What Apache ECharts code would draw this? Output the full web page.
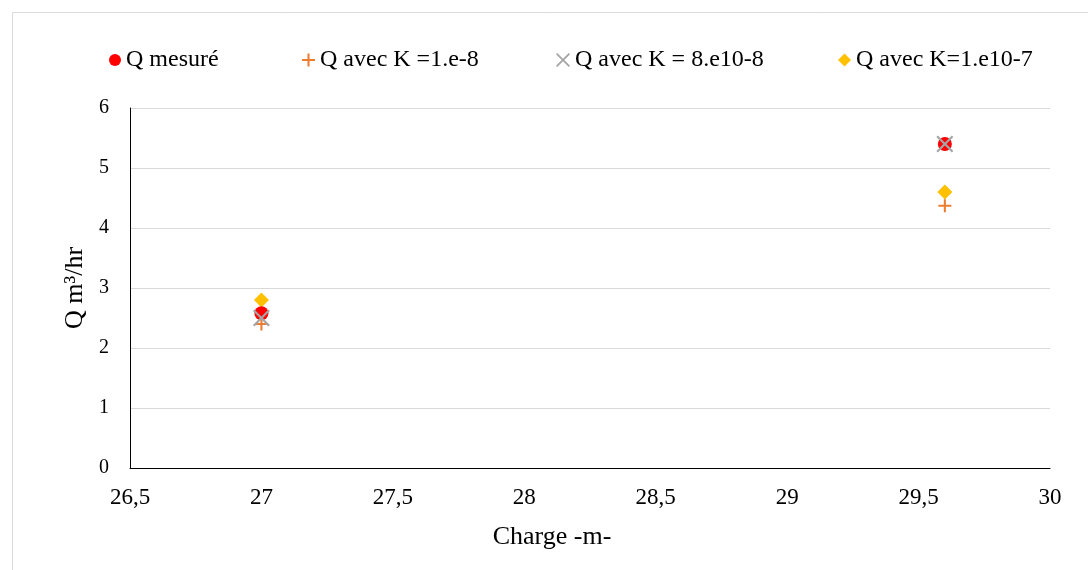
<!DOCTYPE html>
<html><head><meta charset="utf-8">
<script src="https://cdn.jsdelivr.net/npm/echarts@6/dist/echarts.min.js"></script>
<style>html,body{margin:0;padding:0;background:#fff}#c{width:1088px;height:570px}</style>
</head><body><div id="c"></div>
<script>
const seriesNames = ['Q mesuré', 'Q avec K =1.e-8', 'Q avec K = 8.e10-8', 'Q avec K=1.e10-7'];
const charge = [27, 29.6];
const qMesure = [2.58, 5.4];
const qK1 = [2.4, 4.37];
const qK8 = [2.5, 5.4];
const qK107 = [2.8, 4.6];
const xTicks = [26.5, 27, 27.5, 28, 28.5, 29, 29.5, 30];
const yTicks = [0, 1, 2, 3, 4, 5, 6];

const FONT = 'Liberation Serif';
const plusPath = 'path://M4.2,0 L5.8,0 L5.8,4.2 L10,4.2 L10,5.8 L5.8,5.8 L5.8,10 L4.2,10 L4.2,5.8 L0,5.8 L0,4.2 L4.2,4.2 Z';
const xPath = 'path://M0,0.9 L0.9,0 L5,4.1 L9.1,0 L10,0.9 L5.9,5 L10,9.1 L9.1,10 L5,5.9 L0.9,10 L0,9.1 L4.1,5 Z';
const colors = ['#ff0000', '#ed7d31', '#a5a5a5', '#ffc000'];
const symbols = ['circle', plusPath, xPath, 'diamond'];
const sizes = [14, 13, 17, 15];
const legendIconSizes = [12, 13, 14, 13];
const dataSets = [qMesure, qK1, qK8, qK107];

const chart = echarts.init(document.getElementById('c'));
const legendLefts = [104, 297, 551, 833];
chart.setOption({
  animation: false,
  graphic: [{type:'rect', shape:{x:12.5, y:12.5, width:1090, height:570}, style:{fill:'none', stroke:'#d9d9d9', lineWidth:1}}],
  legend: seriesNames.map((n, i) => ({
    data: [n], left: legendLefts[i], top: 43,
    itemWidth: legendIconSizes[i], itemHeight: legendIconSizes[i],
    textStyle: {fontFamily: FONT, fontSize: 24, color: '#000'}
  })),
  grid: {left: 130, right: 38, top: 108, bottom: 102},
  xAxis: {
    type: 'value', min: 26.5, max: 30, interval: 0.5,
    name: 'Charge -m-', nameLocation: 'middle', nameGap: 56,
    nameTextStyle: {fontFamily: FONT, fontSize: 26, color: '#000', padding: [0, 76, 0, 0]},
    axisLine: {show: true, lineStyle: {color: '#000', width: 1}},
    axisTick: {show: false}, splitLine: {show: false},
    axisLabel: {fontFamily: FONT, fontSize: 23, color: '#000', margin: 18,
      formatter: v => String(v).replace('.', ',')}
  },
  yAxis: {
    type: 'value', min: 0, max: 6, interval: 1,
    name: 'Q m³/hr', nameLocation: 'middle', nameGap: 35,
    nameTextStyle: {fontFamily: FONT, fontSize: 26, color: '#000'},
    axisLine: {show: true, lineStyle: {color: '#000', width: 1}},
    axisTick: {show: false},
    splitLine: {lineStyle: {color: '#d9d9d9', width: 1}},
    axisLabel: {fontFamily: FONT, fontSize: 20, color: '#000', margin: 21}
  },
  series: seriesNames.map((n, i) => ({
    name: n, type: 'scatter',
    data: charge.map((c, j) => [c, dataSets[i][j]]),
    symbol: symbols[i], symbolSize: sizes[i],
    itemStyle: {color: colors[i], opacity: 1},
    z: [2, 3, 4, 1][i]
  }))
});
</script></body></html>
